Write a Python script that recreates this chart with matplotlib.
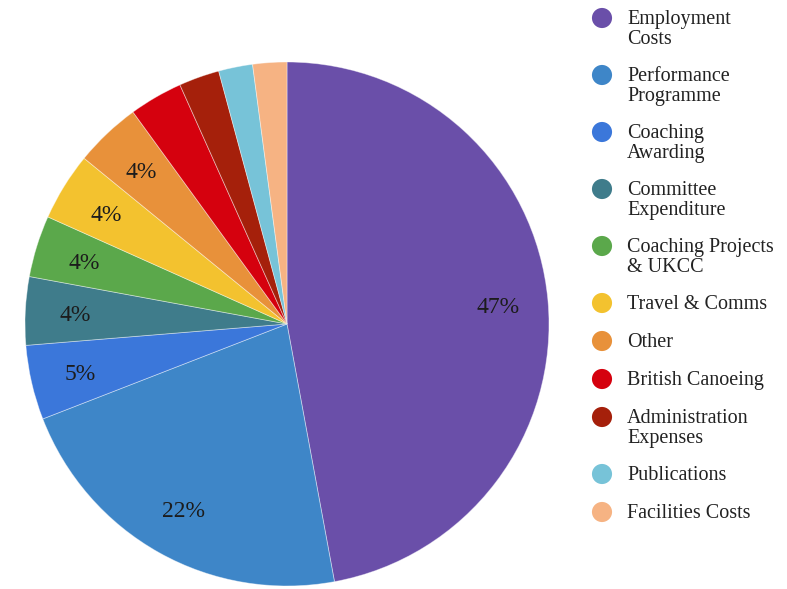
import matplotlib
matplotlib.use("Agg")
import matplotlib.pyplot as plt

categories = [
    "Employment\nCosts",
    "Performance\nProgramme",
    "Coaching\nAwarding",
    "Committee\nExpenditure",
    "Coaching Projects\n& UKCC",
    "Travel & Comms",
    "Other",
    "British Canoeing",
    "Administration\nExpenses",
    "Publications",
    "Facilities Costs",
]
shares = [47.1, 22.0, 4.6, 4.2, 3.8, 4.2, 4.1, 3.3, 2.5, 2.1, 2.1]
colors = [
    "#6a4fa9", "#3e86c8", "#3b77da", "#3f7c8b", "#5ba84b", "#f3c22f",
    "#e8913a", "#d5010e", "#a5200b", "#77c3d8", "#f6b383",
]

plt.rcParams["font.family"] = ["Liberation Serif", "DejaVu Serif"]

W, H = 787, 589
fig = plt.figure(figsize=(W / 100, H / 100), dpi=100)

# pie axes: centre (287, 324) px, radius 262 px
cx, cy, r = 287, 324, 262
ax = fig.add_axes([(cx - r) / W, (H - cy - r) / H, 2 * r / W, 2 * r / H])


def fmt(p):
    return f"{p:.0f}%" if p >= 3.5 else ""


wedges, texts, autotexts = ax.pie(
    shares,
    colors=colors,
    startangle=90,
    counterclock=False,
    autopct=fmt,
    pctdistance=0.81,
    wedgeprops=dict(edgecolor=(1, 1, 1, 0.45), linewidth=0.6),
    textprops=dict(fontsize=17, color="#1c1c1c"),
)
for t in autotexts:
    t.set_verticalalignment("center_baseline")
ax.set_xlim(-1, 1)
ax.set_ylim(-1, 1)
ax.set_aspect("equal")
ax.axis("off")

# legend drawn in pixel coordinates
lax = fig.add_axes([0, 0, 1, 1])
lax.set_xlim(0, W)
lax.set_ylim(H, 0)
lax.axis("off")

y = 17
for label, col in zip(categories, colors):
    lax.scatter([602], [y + 1], s=210, color=col, edgecolors="none")
    lax.text(627, y - 7, label, fontsize=14.5, color="#222222",
             va="top", linespacing=1.05)
    nlines = label.count("\n") + 1
    y += 57 if nlines == 2 else 38

fig.savefig("out.png", dpi=100, facecolor="white")
